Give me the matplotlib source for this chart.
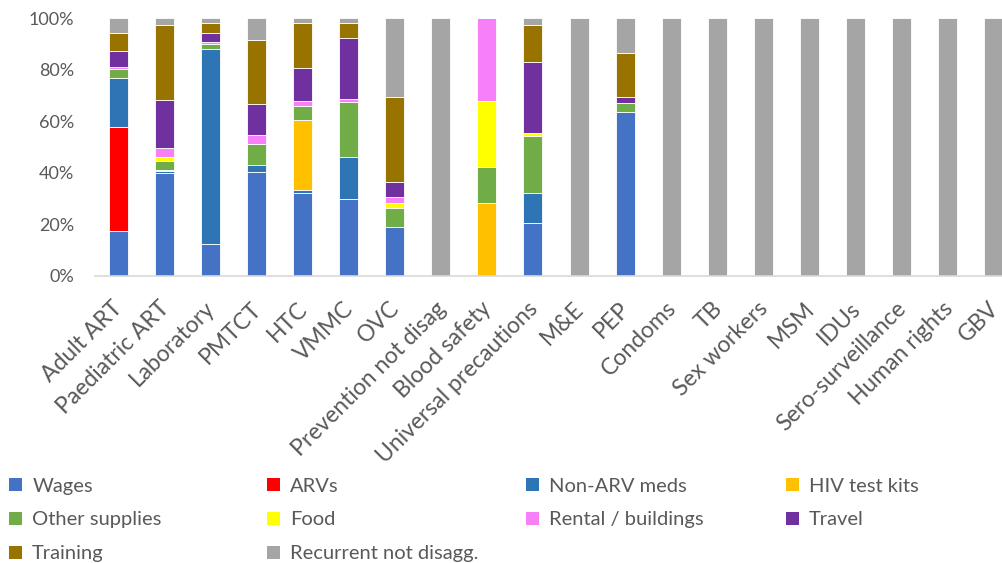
import numpy as np
import matplotlib.pyplot as plt
from matplotlib.patches import Patch
from matplotlib.transforms import ScaledTranslation

plt.rcParams['font.family'] = ['Lato', 'DejaVu Sans']

categorias = ['Adult ART', 'Paediatric ART', 'Laboratory', 'PMTCT', 'HTC', 'VMMC', 'OVC',
              'Prevention not disag', 'Blood safety', 'Universal precautions', 'M&E', 'PEP',
              'Condoms', 'TB', 'Sex workers', 'MSM', 'IDUs', 'Sero-surveillance',
              'Human rights', 'GBV']

# valores em %
wages     = [17.3, 39.9, 12.3, 40.4, 32.1, 29.9, 18.8, 0, 0, 20.6, 0, 63.6, 0, 0, 0, 0, 0, 0, 0, 0]
arvs      = [40.5, 0, 0, 0, 0, 0, 0, 0, 0, 0, 0, 0, 0, 0, 0, 0, 0, 0, 0, 0]
nonArv    = [19.1, 0.6, 75.8, 2.6, 1.0, 16.2, 0, 0, 0, 11.5, 0, 0, 0, 0, 0, 0, 0, 0, 0, 0]
testKits  = [0, 0.4, 0, 0, 27.2, 0, 0, 0, 28.2, 0, 0, 0, 0, 0, 0, 0, 0, 0, 0, 0]
otherSup  = [3.2, 3.6, 1.9, 8.2, 5.7, 21.4, 7.4, 0, 14.0, 22.3, 0, 3.4, 0, 0, 0, 0, 0, 0, 0, 0]
food      = [0, 1.7, 0, 0, 0, 0, 1.9, 0, 25.6, 0.9, 0, 0, 0, 0, 0, 0, 0, 0, 0, 0]
rental    = [0.8, 3.4, 0.8, 3.3, 1.8, 1.1, 2.5, 0, 32.2, 0, 0, 0, 0, 0, 0, 0, 0, 0, 0, 0]
travel    = [6.5, 18.8, 3.4, 12.3, 13.0, 23.9, 5.8, 0, 0, 27.9, 0, 2.5, 0, 0, 0, 0, 0, 0, 0, 0]
training  = [6.8, 29.0, 4.1, 24.9, 17.5, 5.8, 33.0, 0, 0, 14.3, 0, 17.1, 0, 0, 0, 0, 0, 0, 0, 0]
recurrent = [5.8, 2.6, 1.7, 8.3, 1.7, 1.7, 30.6, 100, 0, 2.5, 100, 13.4, 100, 100, 100, 100, 100, 100, 100, 100]

nomes = ['Wages', 'ARVs', 'Non-ARV meds', 'HIV test kits', 'Other supplies', 'Food',
         'Rental / buildings', 'Travel', 'Training', 'Recurrent not disagg.']
series = [wages, arvs, nonArv, testKits, otherSup, food, rental, travel, training, recurrent]
cores = ['#4472C4', '#FF0000', '#2E75B6', '#FFC000', '#70AD47', '#FFFF00',
         '#F77FF7', '#7030A0', '#997300', '#A5A5A5']

cinza = '#595959'

fig = plt.figure(figsize=(10.03, 5.63), dpi=100)
ax = fig.add_axes([95 / 1003, 1 - 275.5 / 563, (1017 - 95) / 1003, 257.2 / 563])

x = np.arange(len(categorias))
base = np.zeros(len(categorias))
handles = []
for nome, s, c in zip(nomes, series, cores):
    v = np.array(s) / 100
    ax.bar(x, v, 0.41, bottom=base, color=c, edgecolor='white', linewidth=0.6)
    base += v
    handles.append(Patch(facecolor=c, edgecolor='none', label=nome))

ax.set_xlim(-0.5, len(categorias) - 0.5)
ax.set_ylim(0, 1)
ax.set_yticks(np.arange(0, 1.01, 0.2))
ax.set_yticklabels([f'{int(round(t * 100))}%' for t in np.arange(0, 1.01, 0.2)], color=cinza, fontsize=13)
ax.set_xticks(x)
ax.set_xticklabels(categorias, rotation=45, ha='right', rotation_mode='anchor',
                   color=cinza, fontsize=16.5)
ax.tick_params(axis='both', length=0)
ax.tick_params(axis='y', pad=15)
ax.tick_params(axis='x', pad=16)
# desloca os rotulos um pouco para a esquerda
desloc = ScaledTranslation(-6 / 100, 0, fig.dpi_scale_trans)
for lbl in ax.get_xticklabels():
    lbl.set_transform(lbl.get_transform() + desloc)
for lado in ['top', 'right', 'left']:
    ax.spines[lado].set_visible(False)
ax.spines['bottom'].set_color('#D9D9D9')
ax.spines['bottom'].set_linewidth(1.2)

# legenda em 4 colunas (ordem por linha)
colunas = [[0, 4, 8], [1, 5, 9], [2, 6], [3, 7]]
xs = [1, 259, 518, 778]
for col, xp in zip(colunas, xs):
    leg = fig.legend(handles=[handles[i] for i in col], loc='upper left',
                     bbox_to_anchor=(xp / 1003, 1 - 469.5 / 563), frameon=False,
                     fontsize=14.5, handlelength=0.65, handleheight=0.65,
                     handletextpad=0.5, labelspacing=0.84, borderaxespad=0)
    for t in leg.get_texts():
        t.set_color(cinza)

fig.savefig('out.png', dpi=100)
